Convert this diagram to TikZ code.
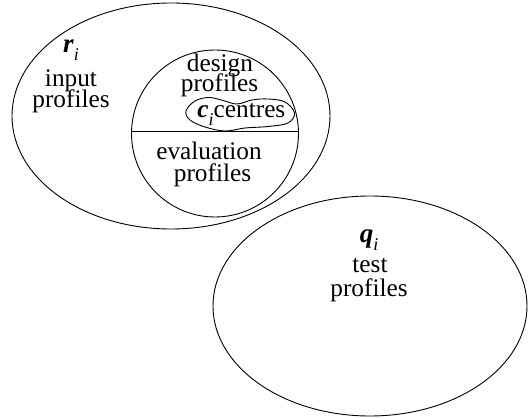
\documentclass[tikz,border=0pt]{standalone}
\usepackage{fontspec}
\setmainfont{Liberation Serif}
\newcommand\bsub[3][27]{{\fontsize{#1}{#1}\selectfont\textbf{\textit{#2}}}\raisebox{-8pt}{\fontsize{18}{18}\selectfont\textit{#3}}}
\begin{document}
\begin{tikzpicture}[x=1pt,y=-1pt,line width=0.9pt,
  lbl/.style={anchor=base,inner sep=0pt,text height=13pt,text depth=5pt,font=\fontsize{25.3}{21}\selectfont}]
\useasboundingbox (0,0) rectangle (528,419);
% outer ellipse: input profiles
\draw (171,116) ellipse [x radius=159, y radius=113];
% test ellipse
\draw (370,306) ellipse [x radius=157, y radius=110];
% inner circle
\draw (215,133.5) circle [radius=83.5];
\draw (131.6,131) -- (298.4,131);
% centres blob
\draw plot[smooth cycle, tension=0.6] coordinates {(186,111) (195,101) (209,97.5) (223,100.5) (237,104) (252,100) (268,99) (285,102) (294.5,113) (288,123) (268,126.5) (245,128) (225,131) (205,127) (190,120)};
% labels
\node[lbl] (ri) at (71,53) {\bsub{r}{i}};
\node[lbl] (in1) at (71,87) {input};
\node[lbl] (in2) at (71,108) {profiles};
\node[lbl] (d1) at (220,72) {design};
\node[lbl] (d2) at (219.5,92) {profiles};
\node[lbl,anchor=base west] (ci) at (197,118) {\bsub[25.3]{c}{i}centres};
\node[lbl] (e1) at (209,160) {evaluation};
\node[lbl] (e2) at (212.5,182) {profiles};
\node[lbl] (qi) at (369,243) {\bsub{q}{i}};
\node[lbl] (t1) at (370,273) {test};
\node[lbl] (t2) at (369,297) {profiles};
\end{tikzpicture}
\end{document}
